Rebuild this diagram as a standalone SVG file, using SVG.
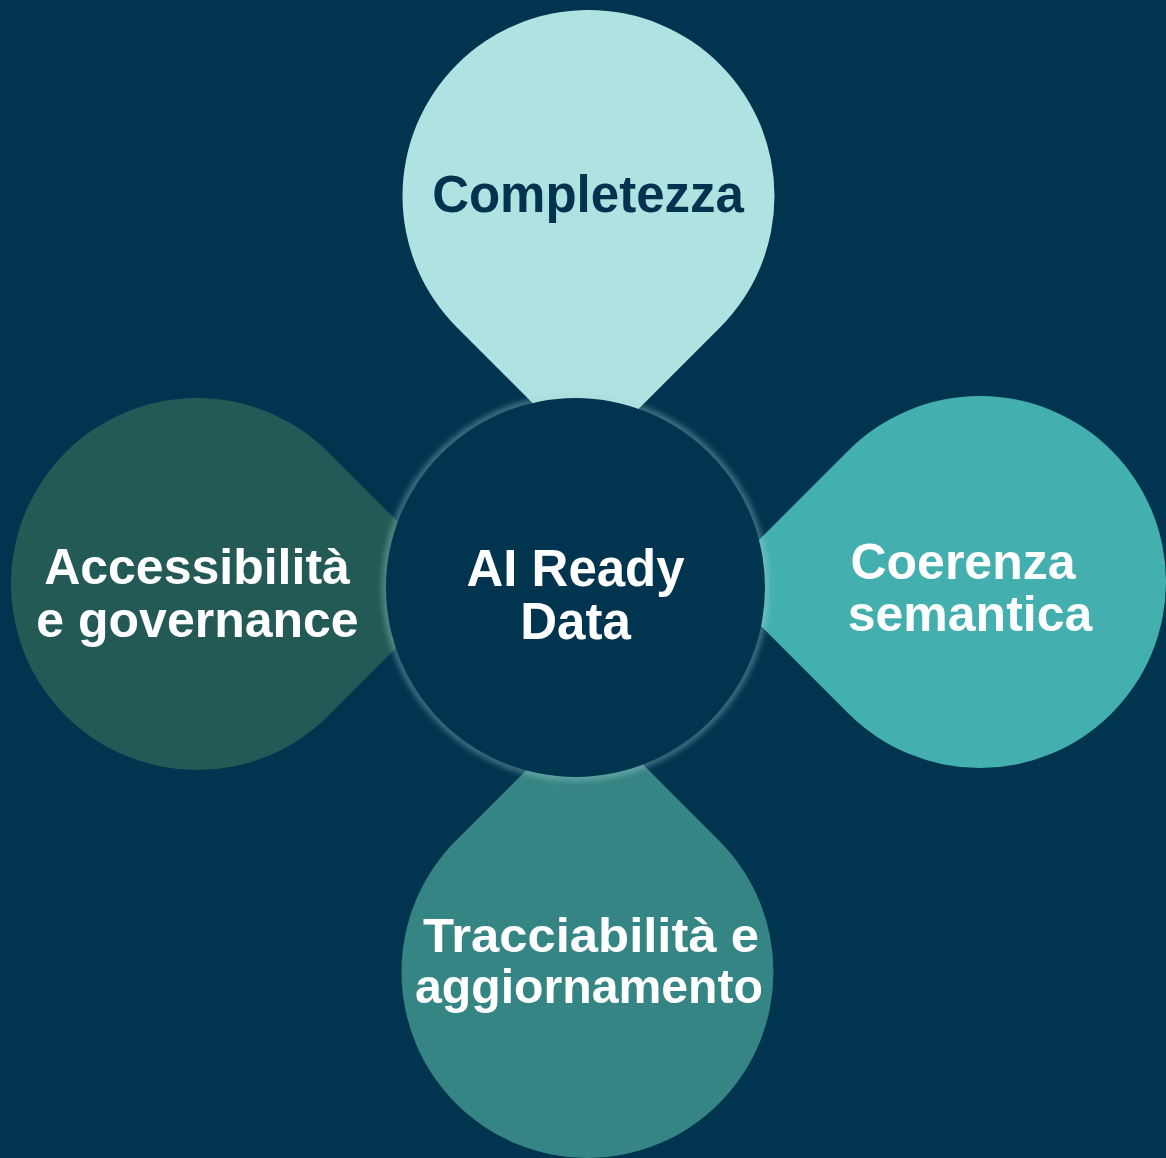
<svg xmlns="http://www.w3.org/2000/svg" xmlns:xlink="http://www.w3.org/1999/xlink" width="1166" height="1158" viewBox="0 0 1166 1158">
  <defs>
    <path id="drop" d="M 131.52 -131.52 L 263.04 0 L 131.52 131.52 A 186 186 0 1 1 131.52 -131.52 Z"/>
    <filter id="glow" x="-20%" y="-20%" width="140%" height="140%">
      <feGaussianBlur stdDeviation="3"/>
    </filter>
    <style>
      .lbl { font-family: "Liberation Sans", Arial, Helvetica, sans-serif; font-weight: bold; text-anchor: middle; }
      .w { fill: #ffffff; }
      .d { fill: #01334e; }
    </style>
  </defs>
  <rect x="0" y="0" width="1166" height="1158" fill="#01344f"/>

  <g id="node-completezza">
    <use xlink:href="#drop" href="#drop" transform="translate(588.5 196) rotate(90)" fill="#b0e2e1"/>
    <text class="lbl d" x="588" y="212" font-size="51">Completezza</text>
  </g>

  <g id="node-coerenza">
    <use xlink:href="#drop" href="#drop" transform="translate(980 582) rotate(180)" fill="#43b0af"/>
    <text class="lbl w" font-size="50"><tspan x="963" y="579">Coerenza</tspan><tspan x="970" y="631">semantica</tspan></text>
  </g>

  <g id="node-tracciabilita">
    <use xlink:href="#drop" href="#drop" transform="translate(587.5 972) rotate(-90)" fill="#358584"/>
    <text class="lbl w" font-size="48"><tspan x="591" y="952" textLength="336" lengthAdjust="spacingAndGlyphs">Tracciabilità e</tspan><tspan x="589" y="1003" textLength="348" lengthAdjust="spacingAndGlyphs">aggiornamento</tspan></text>
  </g>

  <g id="node-accessibilita">
    <use xlink:href="#drop" href="#drop" transform="translate(197 584)" fill="#245a56"/>
    <text class="lbl w" font-size="50"><tspan x="197" y="584">Accessibilità</tspan><tspan x="197.5" y="637">e governance</tspan></text>
  </g>

  <g id="node-center">
    <circle cx="575.5" cy="587.5" r="190" fill="none" stroke="#a8d6d6" stroke-width="5" stroke-opacity="0.55" filter="url(#glow)"/>
    <circle cx="575.5" cy="587.5" r="189.5" fill="#01344f"/>
    <text class="lbl w" font-size="51"><tspan x="575.5" y="586">AI Ready</tspan><tspan x="575.5" y="639">Data</tspan></text>
  </g>
</svg>
